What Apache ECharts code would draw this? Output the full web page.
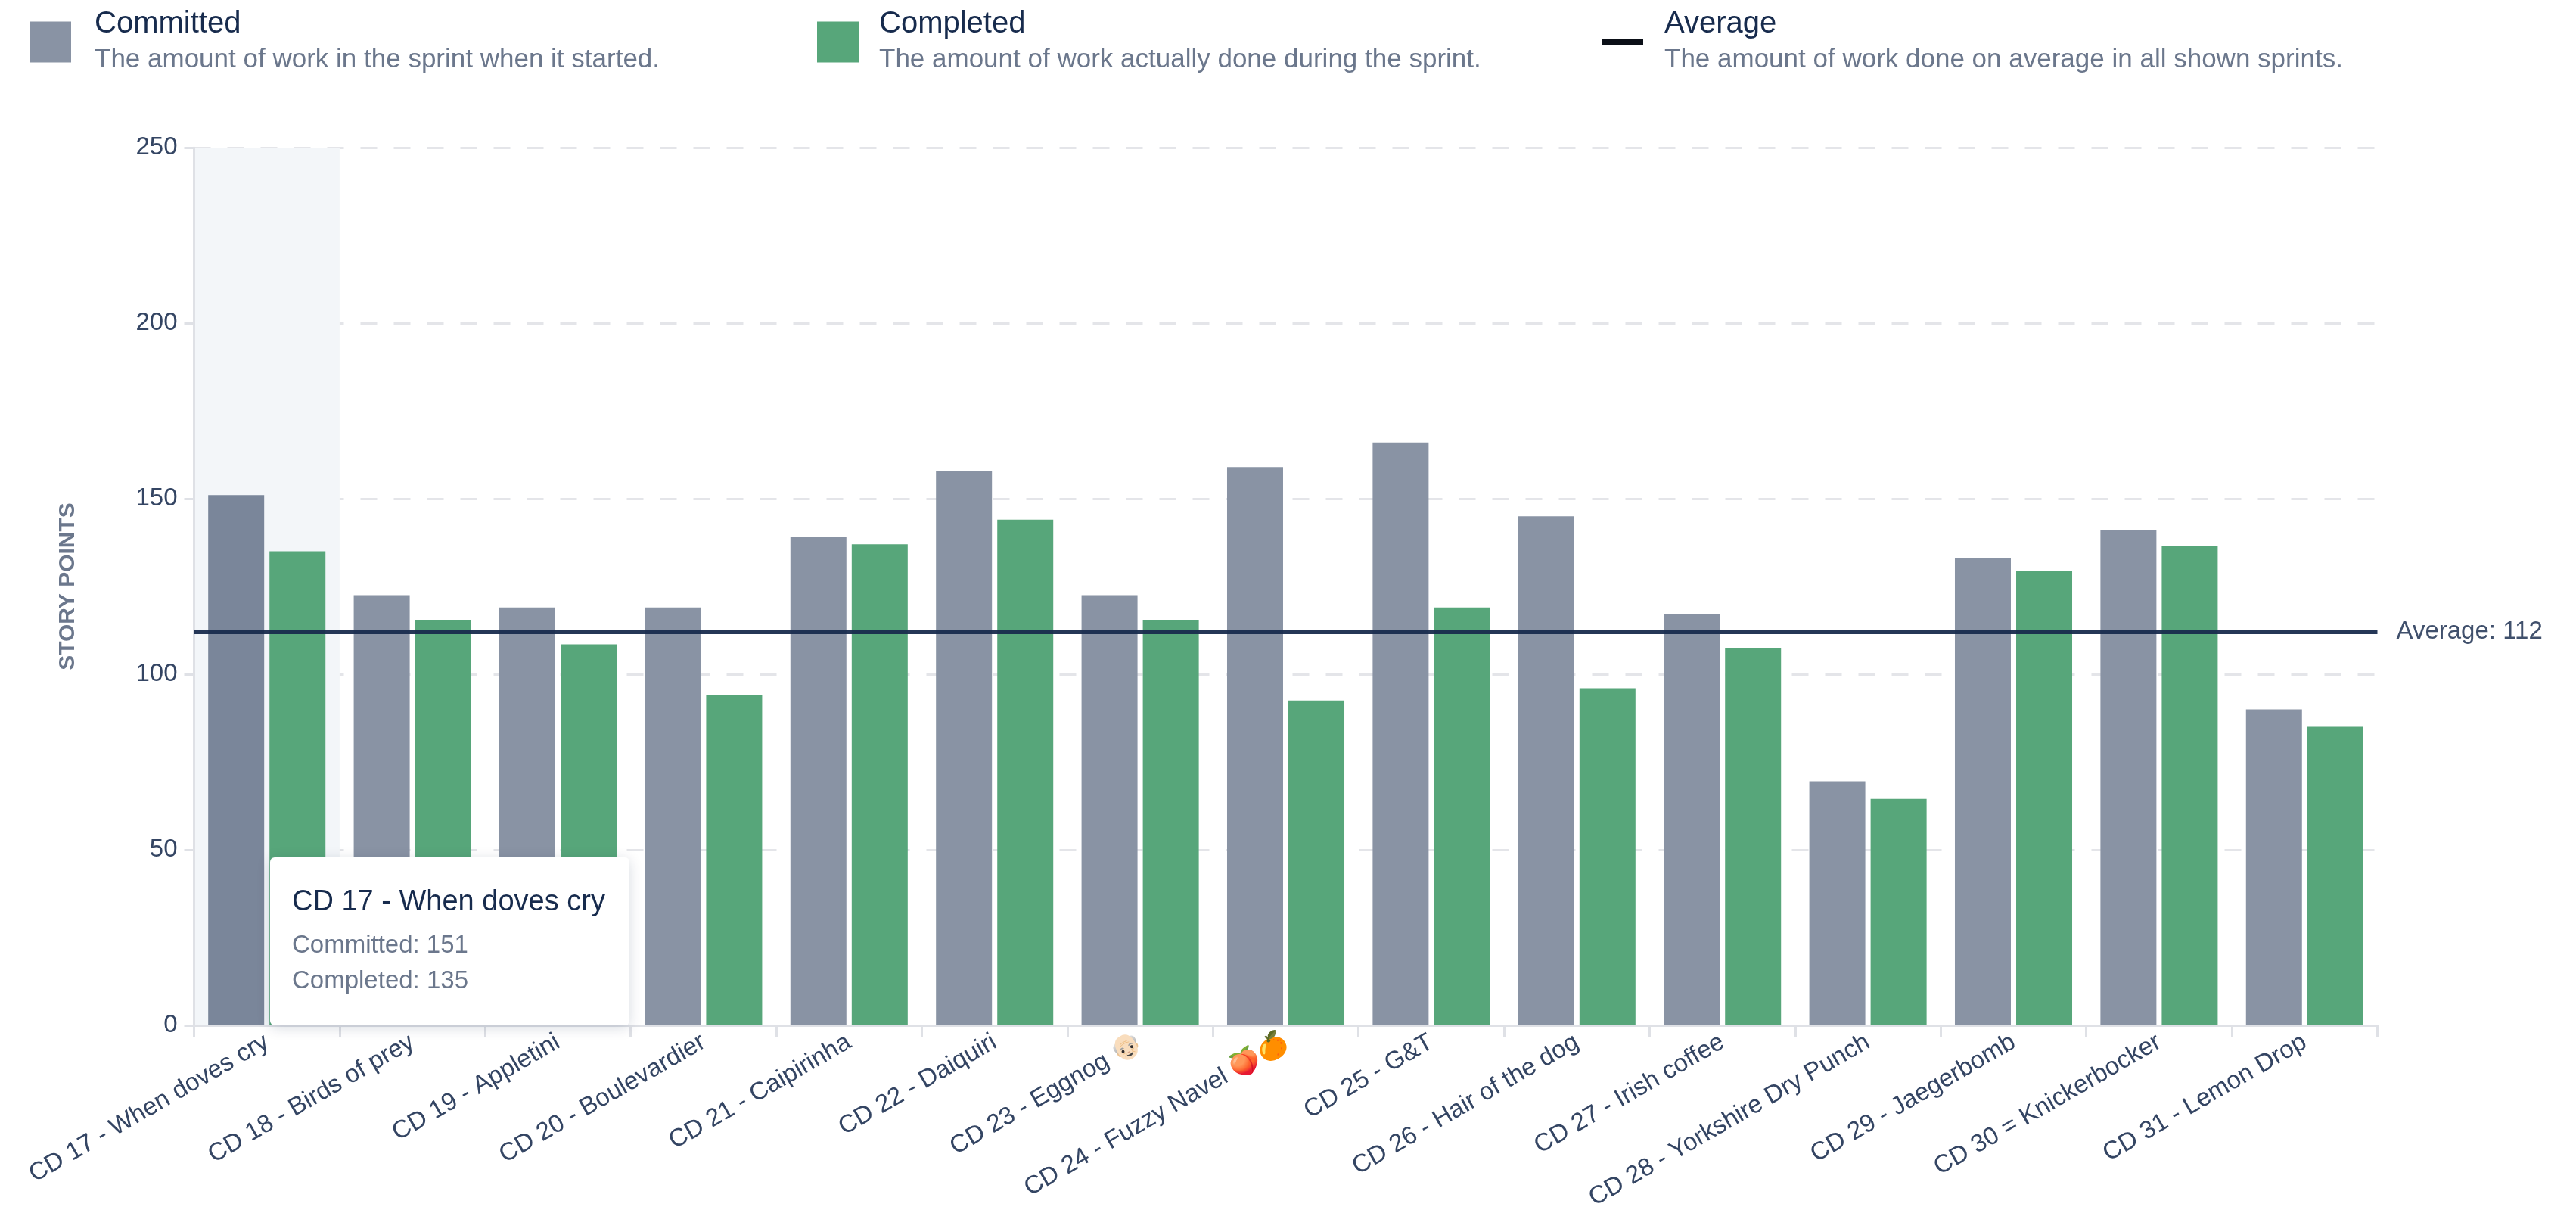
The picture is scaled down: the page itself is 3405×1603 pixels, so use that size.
<!DOCTYPE html>
<html>
<head>
<meta charset="utf-8">
<style>html,body{margin:0;padding:0;background:#fff}#chart{width:3405px;height:1603px}</style>
<script src="https://cdn.jsdelivr.net/npm/echarts@6/dist/echarts.min.js"></script>
</head>
<body>
<div id="chart"></div>
<script>
const categories = ['CD 17 - When doves cry','CD 18 - Birds of prey','CD 19 - Appletini','CD 20 - Boulevardier','CD 21 - Caipirinha','CD 22 - Daiquiri','CD 23 - Eggnog 👴🏻','CD 24 - Fuzzy Navel 🍑🍊','CD 25 - G&T','CD 26 - Hair of the dog','CD 27 - Irish coffee','CD 28 - Yorkshire Dry Punch','CD 29 - Jaegerbomb','CD 30 = Knickerbocker','CD 31 - Lemon Drop'];
const committed = [151,122.5,119,119,139,158,122.5,159,166,145,117,69.5,133,141,90];
const completed = [135,115.5,108.5,94,137,144,115.5,92.5,119,96,107.5,64.5,129.5,136.5,85];
const averageValue = 112;
const yTicks = {min:0,max:250,interval:50};
const activeIndex = 0;
const legendTexts = {
  Committed:'The amount of work in the sprint when it started.',
  Completed:'The amount of work actually done during the sprint.',
  Average:'The amount of work done on average in all shown sprints.'
};
const FONT = '"Liberation Sans", Helvetica, Arial, sans-serif';
const DARK = '#172B4D', MID = '#6B778C', AXIS = '#DFE1E6';
const C_COMMITTED = '#8993A4', C_ACTIVE = '#7A869A', C_COMPLETED = '#57A67A';

function legendRich(pad){
  return {
    t:{fontFamily:FONT,fontSize:40,color:DARK,lineHeight:47,padding:[0,0,0,pad]},
    s:{fontFamily:FONT,fontSize:35,color:MID,lineHeight:47,padding:[0,0,0,pad]}
  };
}
function legendOf(name,left,pad,extra){
  return Object.assign({
    left:left, top:12, padding:0, orient:'horizontal', selectedMode:false,
    itemWidth:55, itemHeight:54, icon:'rect',
    data:[{name:name}],
    formatter:n=>'{t|'+n+'}\n{s|'+legendTexts[n]+'}',
    textStyle:{rich:legendRich(pad)}
  },extra||{});
}

const chart = echarts.init(document.getElementById('chart'));
chart.setOption({
  animation:false,
  backgroundColor:'#fff',
  textStyle:{fontFamily:FONT},
  legend:[
    legendOf('Committed',39,26),
    legendOf('Completed',1080,22),
    legendOf('Average',2117,23,{itemHeight:8,data:[{name:'Average',itemStyle:{color:'#0B0F17'}}]})
  ],
  grid:{left:256.5,top:195,width:2886,height:1160,containLabel:false},
  tooltip:{
    trigger:'axis',
    showContent:true,
    alwaysShowContent:true,
    transitionDuration:0,
    position:[357,1133],
    backgroundColor:'#fff',
    borderWidth:0,
    padding:[34,29],
    axisPointer:{type:'shadow',z:0,shadowStyle:{color:'#F3F6F9',opacity:1},label:{show:false}},
    extraCssText:'box-sizing:border-box;width:475px;height:222px;border-radius:6px;box-shadow:0 3px 18px rgba(9,30,66,.16);',
    formatter:function(params){
      const i = params[0].dataIndex;
      return '<div style="font:38px/46px '+FONT.replace(/"/g,"'")+';color:'+DARK+';margin-bottom:11px;">'+categories[i]+'</div>'+
             '<div style="font:33px/47px '+FONT.replace(/"/g,"'")+';color:'+MID+';">Committed: '+committed[i]+'<br>Completed: '+completed[i]+'</div>';
    }
  },
  xAxis:{
    type:'category',
    data:categories,
    axisLine:{lineStyle:{color:AXIS,width:3}},
    axisTick:{show:true,length:15,lineStyle:{color:AXIS,width:3}},
    axisLabel:{rotate:30,interval:0,margin:20,fontFamily:FONT,fontSize:33,color:'#344563'},
    axisPointer:{type:'shadow',z:0}
  },
  yAxis:{
    type:'value',
    min:yTicks.min,max:yTicks.max,interval:yTicks.interval,
    name:'STORY POINTS',
    nameLocation:'middle',
    nameGap:152,
    nameTextStyle:{fontFamily:FONT,fontSize:30,fontWeight:'bold',color:MID},
    axisLine:{show:true,lineStyle:{color:AXIS,width:3}},
    axisTick:{show:true,length:13,lineStyle:{color:AXIS,width:3}},
    axisLabel:{margin:22,fontFamily:FONT,fontSize:33,color:'#344563'},
    splitLine:{show:true,lineStyle:{color:'#E4E5E9',width:3,type:[22,22]}}
  },
  series:[
    {name:'Committed',type:'bar',barWidth:74,barGap:'9.5%',itemStyle:{color:C_COMMITTED},
     emphasis:{disabled:true},
     data:committed.map((v,i)=>i===activeIndex?{value:v,itemStyle:{color:C_ACTIVE}}:v)},
    {name:'Completed',type:'bar',barWidth:74,barGap:'9.5%',itemStyle:{color:C_COMPLETED},
     emphasis:{disabled:true},data:completed},
    {name:'Average',type:'line',data:[],showSymbol:false,itemStyle:{color:'#0B0F17'},lineStyle:{color:DARK,width:5},
     tooltip:{show:false},
     markLine:{silent:true,symbol:'none',animation:false,
       lineStyle:{color:DARK,width:5,type:'solid',opacity:.94},
       label:{show:true,position:'end',distance:25,formatter:'Average: '+averageValue,fontFamily:FONT,fontSize:33,color:'#344563'},
       data:[{yAxis:averageValue}]}}
  ]
});
chart.dispatchAction({type:'showTip',seriesIndex:0,dataIndex:activeIndex});
</script>
</body>
</html>
